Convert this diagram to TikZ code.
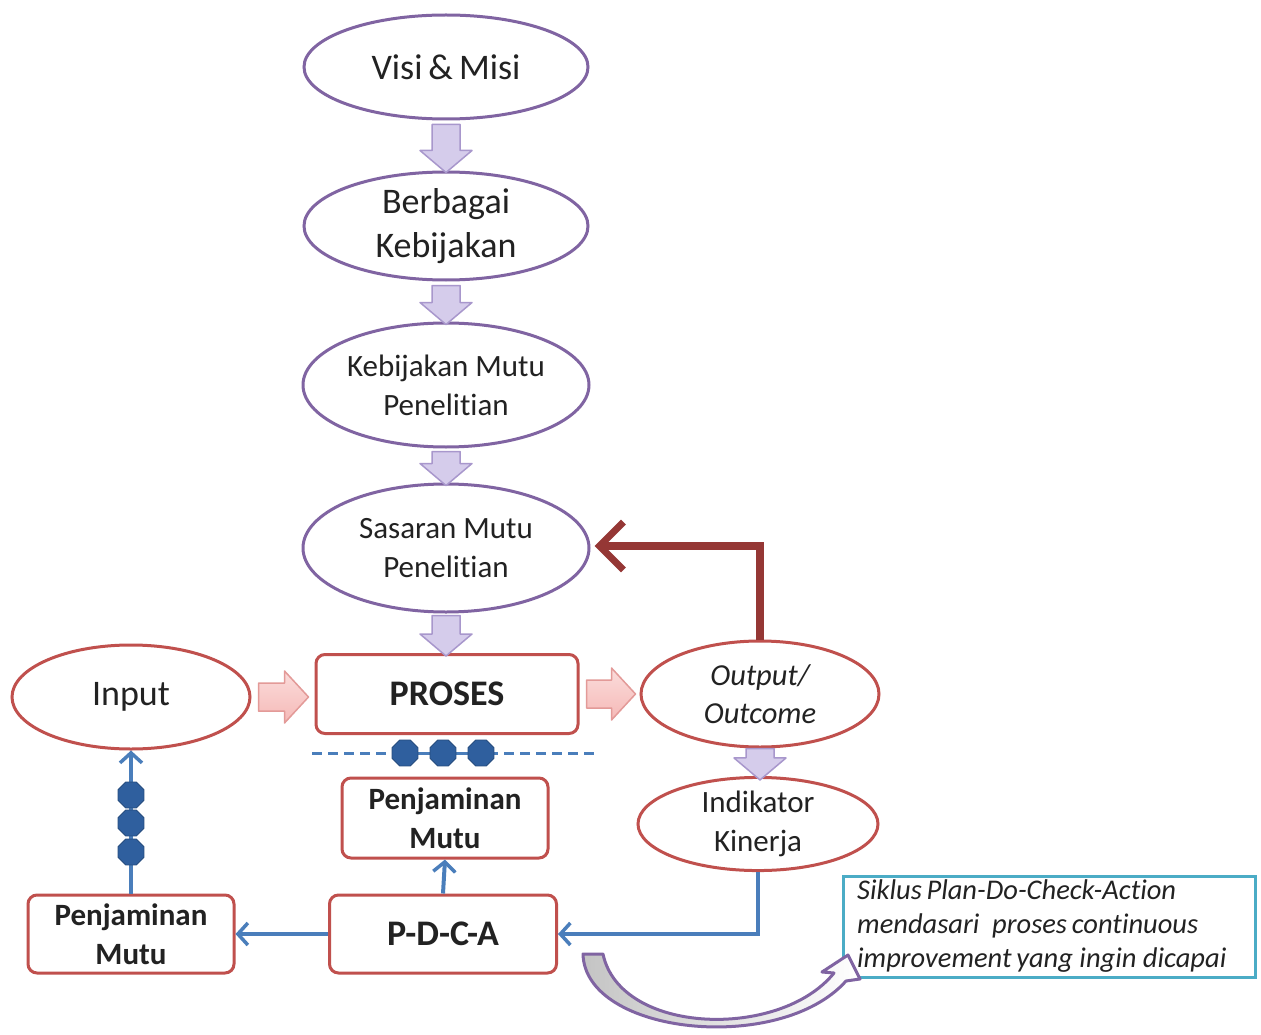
\documentclass[tikz,border=0pt]{standalone}
\usepackage{fontspec}
\setmainfont{Carlito}[RawFeature={-liga;-clig;-calt;-dlig}]
\usetikzlibrary{shapes.geometric,arrows.meta,calc}
\definecolor{purp}{HTML}{8064A2}
\definecolor{purpfill}{HTML}{D5CCEB}
\definecolor{purpedge}{HTML}{A897CC}
\definecolor{redb}{HTML}{C0504D}
\definecolor{pinkfill}{HTML}{F5B9B7}
\definecolor{pinktop}{HTML}{FBDCDB}
\definecolor{pinkedge}{HTML}{E39A98}
\definecolor{blu}{HTML}{4A7EBB}
\definecolor{dotb}{HTML}{2F5F9E}
\definecolor{darkred}{HTML}{953735}
\definecolor{cyanb}{HTML}{4BACC6}
\definecolor{txt}{HTML}{222222}
\definecolor{grayfill}{HTML}{C4C4C4}
\newcommand\vblk[2]{%
  \path[purparrow] let \p1=(#1), \p2=(#2) in
    (\x1-14pt,\y1) -- (\x1+14pt,\y1) -- (\x1+14pt,\y2+22pt) -- (\x1+26pt,\y2+22pt)
    -- (\x1,\y2) -- (\x1-26pt,\y2+22pt) -- (\x1-14pt,\y2+22pt) -- cycle;}
\newcommand\hblk[2]{%
  \path[pinkarrow] let \p1=(#1), \p2=(#2) in
    (\x1,\y1+14pt) -- (\x2-24pt,\y1+14pt) -- (\x2-24pt,\y1+26pt) -- (\x2,\y1)
    -- (\x2-24pt,\y1-26pt) -- (\x2-24pt,\y1-14pt) -- (\x1,\y1-14pt) -- cycle;}
\begin{document}
\begin{tikzpicture}[x=1pt,y=-1pt,
  pell/.style={ellipse,draw=purp,line width=3pt,fill=white,inner sep=0pt,text=txt,align=center},
  rell/.style={ellipse,draw=redb,line width=3pt,fill=white,inner sep=0pt,text=txt,align=center},
  rbox/.style={rectangle,rounded corners=9pt,draw=redb,line width=3pt,fill=white,inner sep=0pt,text=txt,align=center},
  purparrow/.style={fill=purpfill,draw=purpedge,line width=1.5pt,line join=round},
  pinkarrow/.style={top color=pinktop,bottom color=pinkfill,draw=pinkedge,line width=1.5pt,line join=round},
  bline/.style={draw=blu,line width=4pt},
  barrow/.style={bline,-{Straight Barb[length=10pt,width=22pt,line width=3.5pt]}},
  dot/.style={regular polygon,regular polygon sides=8,fill=dotb,draw=dotb!80!black,line width=0.8pt,minimum size=28pt,inner sep=0pt},
  big/.style={font=\fontsize{36}{44}\selectfont},
  mid/.style={font=\fontsize{31}{39}\selectfont},
  bmid/.style={font=\bfseries\fontsize{31}{39}\selectfont},
  bbig/.style={font=\bfseries\fontsize{36}{44}\selectfont},
  imid/.style={font=\itshape\fontsize{30.5}{38}\selectfont}]
\useasboundingbox[fill=white] (0,0) rectangle (1261,1035);

% purple ellipses
\node[pell,big,minimum width=284pt,minimum height=104pt] (visi) at (446,67) {Visi\,\&\,Misi};
\node[pell,big,minimum width=284pt,minimum height=108pt] (berb) at (446,226) {Berbagai\\Kebijakan};
\node[pell,mid,minimum width=286pt,minimum height=124pt] (kebij) at (446,385) {Kebijakan Mutu\\Penelit\kern0pt ian};
\node[pell,mid,minimum width=286pt,minimum height=128pt] (sasar) at (446,548) {Sasaran Mutu\\Penelit\kern0pt ian};

% red row
\node[rell,big,minimum width=238pt,minimum height=104pt] (input) at (131,697) {Input};
\node[rbox,bbig,minimum width=262pt,minimum height=79pt] (proses) at (447,694) {PROSES};
\node[rell,imid,minimum width=238pt,minimum height=106pt] (output) at (760,694) {Output/\\Outcome};
\node[rell,mid,minimum width=240pt,minimum height=80pt] (indik) at (758,824) {Indikator\\Kinerja};

\node[rbox,bmid,minimum width=206pt,minimum height=80pt] (pjm) at (445,818) {Penjaminan\\Mutu};
\node[rbox,bbig,minimum width=227pt,minimum height=78pt] (pdca) at (443,934) {P-D-C-A};
\node[rbox,bmid,minimum width=206pt,minimum height=78pt] (pjl) at (131,934) {Penjaminan\\Mutu};

% callout
\node[rectangle,draw=cyanb,line width=3pt,fill=white,minimum width=412pt,minimum height=101pt,inner sep=0pt] (callout) at (1049,926.5) {};
\node[anchor=north west,align=left,text=txt,inner sep=0pt,font=\itshape\fontsize{28.5}{34}\selectfont] (calltext) at (857,880)
  {Siklus\,Plan-Do-Check-Act\kern0pt ion\\mendasari\ \ proses\,cont\kern0pt inuous\\improvement\,yang ingin dicapai};

% purple block arrows
\vblk{$(visi.south)+(0,4)$}{$(berb.north)+(0,2)$}
\vblk{$(berb.south)+(0,4)$}{$(kebij.north)+(0,3)$}
\vblk{$(kebij.south)+(0,3)$}{$(sasar.north)+(0,3)$}
\vblk{$(sasar.south)+(0,2)$}{$(proses.north)+(0,3)$}
\vblk{$(output.south)+(0,0)$}{$(indik.north)+(0,4)$}

% pink block arrows
\hblk{$(input.east)+(7,0)$}{$(proses.west)+(-6,0)$}
\hblk{$(proses.east)+(7,0)$}{$(output.west)+(-4,0)$}

% red feedback arrow
\draw[draw=darkred,line width=7.5pt,-{Straight Barb[length=24pt,width=48pt,line width=7pt]}]
  (output.north) |- ($(sasar.east)+(4,-2)$);

% dashed line with dots
\coordinate (dl) at (312,753);
\coordinate (dr) at (598,753);
\draw[blu,line width=3pt,dash pattern=on 10pt off 6pt] (dl) -- (dr);
\draw[blu,line width=3pt] (395,753) -- (490,753);
\node[dot] (d1) at (405,753) {};
\node[dot] (d2) at (443,753) {};
\node[dot] (d3) at (481,753) {};

% blue connectors
\draw[barrow] (pdca.west) -- (pjl.east);
\draw[barrow] (pdca.north) -- (pjm.south);
\draw[barrow] (pjl.north) -- (input.south);
\draw[barrow] (indik.south) |- (pdca.east);
\node[dot] (l1) at (131,795) {};
\node[dot] (l2) at (131,823) {};
\node[dot] (l3) at (131,852) {};

% curved block arrow
\path[left color=grayfill,right color=white,draw=purp,line width=3pt,line join=round]
  (583,954) .. controls (585,1035) and (780,1055) .. (846,981)
  -- (860,979) -- (848,955) -- (822,972) -- (834,973)
  .. controls (780,1040) and (620,1035) .. (603,954) -- cycle;
\end{tikzpicture}
\end{document}
